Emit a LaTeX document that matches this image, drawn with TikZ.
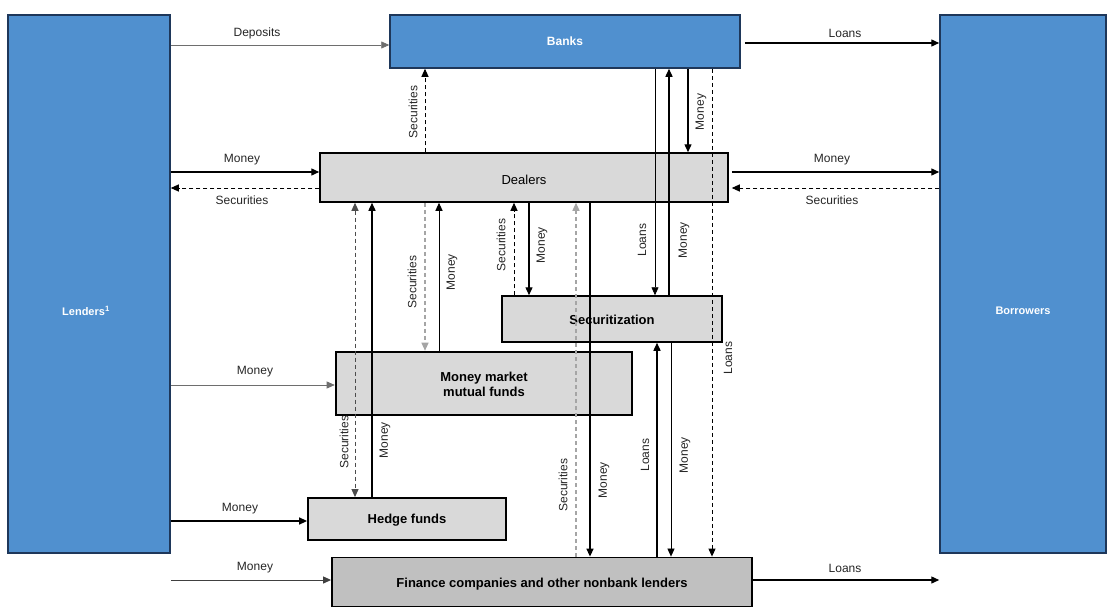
\documentclass[tikz,border=0pt]{standalone}
\usepackage{fontspec}
\setmainfont{Liberation Sans}
\usetikzlibrary{arrows.meta}
\definecolor{bbl}{RGB}{80,144,207}
\definecolor{bbd}{RGB}{30,55,90}
\definecolor{lg}{RGB}{217,217,217}
\definecolor{dg}{RGB}{192,192,192}
\definecolor{ln}{RGB}{110,110,110}
\definecolor{gd}{RGB}{165,165,165}
\begin{document}
\begin{tikzpicture}[x=1pt,y=-1pt,
  bluebox/.style={draw=bbd, line width=1.5pt, fill=bbl, inner sep=0pt},
  graybox/.style={draw=black, line width=1.8pt, fill=lg, inner sep=0pt},
  wtxt/.style={text=white, font=\bfseries\fontsize{11}{13}\selectfont, inner sep=0pt},
  btxt/.style={font=\bfseries\fontsize{13}{15}\selectfont, inner sep=0pt, align=center},
  arr/.style={-{Triangle[length=8pt,width=7pt]}, line width=1.4pt},
  marr/.style={-{Triangle[length=8pt,width=7pt]}, line width=1pt},
  tarr/.style={-{Triangle[length=8pt,width=7pt]}, line width=0.7pt, draw=ln},
  darr/.style={-{Triangle[length=8pt,width=7pt]}, line width=1pt, dash pattern=on 4pt off 3pt},
  gdarr/.style={-{Triangle[length=8pt,width=7pt]}, line width=1.2pt, draw=gd, dash pattern=on 4pt off 3pt},
  lbl/.style={font=\fontsize{12}{14}\selectfont, inner sep=0pt, text=black!85},
  vl/.style={lbl, rotate=90},
]
\useasboundingbox (0,0) rectangle (1109,608);
\fill[white] (0,0) rectangle (1109,608);

% boxes
\node[bluebox, minimum width=162pt, minimum height=538pt] (lenders) at (89,284) {};
\node[wtxt] (lenderst) at (86,311) {Lenders\textsuperscript{1}};
\node[bluebox, minimum width=166pt, minimum height=538pt] (borrowers) at (1023,284) {};
\node[wtxt] (borrowerst) at (1023,311) {Borrowers};
\node[bluebox, minimum width=350pt, minimum height=53pt] (banks) at (565,41.5) {};
\node[wtxt, font=\bfseries\fontsize{12}{14}\selectfont] (bankst) at (565,41.5) {Banks};
\node[graybox, line width=1.5pt, minimum width=408pt, minimum height=49pt] (dealers) at (524,177.5) {};
\node[btxt, font=\fontsize{13}{15}\selectfont] (dealerst) at (524,180) {Dealers};
\node[graybox, line width=1.5pt, minimum width=220pt, minimum height=46pt] (secur) at (612,319) {};
\node[btxt] (securt) at (612,320) {Securitization};
\node[graybox, line width=2.6pt, minimum width=296pt, minimum height=63pt] (mmmf) at (484,383.5) {};
\node[btxt] (mmmft) at (484,384) {Money market\\mutual funds};
\node[graybox, minimum width=198pt, minimum height=42pt] (hedge) at (407,519) {};
\node[btxt] (hedget) at (407,520) {Hedge funds};
\node[graybox, fill=dg, minimum width=420pt, minimum height=49pt] (finance) at (542,582) {};
\node[btxt] (financet) at (542,584) {Finance companies and other nonbank lenders};

% horizontal connectors
\draw[tarr] (lenders.east |- 0,45) -- (banks.west |- 0,45);
\draw[arr] ([xshift=4pt]banks.east |- 0,43) -- (borrowers.west |- 0,43);
\draw[arr] (lenders.east |- 0,172) -- (dealers.west |- 0,172);
\draw[darr] (dealers.west |- 0,188) -- (lenders.east |- 0,188);
\draw[arr] ([xshift=3pt]dealers.east |- 0,172) -- (borrowers.west |- 0,172);
\draw[darr] (borrowers.west |- 0,188) -- ([xshift=3pt]dealers.east |- 0,188);
\draw[tarr] (lenders.east |- 0,385) -- (mmmf.west |- 0,385);
\draw[arr] (lenders.east |- 0,521) -- (hedge.west |- 0,521);
\draw[marr, draw=black!75] (lenders.east |- 0,580) -- (finance.west |- 0,580);
\draw[arr] (finance.east |- 0,580) -- (borrowers.west |- 0,580);

% vertical connectors
\draw[darr] (425,0 |- dealers.north) -- (425,0 |- banks.south);
\draw[tarr, draw=black] (655,0 |- banks.south) -- (655,0 |- secur.north);
\draw[arr] (669,0 |- secur.north) -- (669,0 |- banks.south);
\draw[arr] (688,0 |- banks.south) -- (688,0 |- dealers.north);
\draw[darr] (712,0 |- banks.south) -- (712,0 |- finance.north);
\draw[darr] (514,0 |- secur.north) -- (514,0 |- dealers.south);
\draw[arr] (529,0 |- dealers.south) -- (529,0 |- secur.north);
\draw[gdarr] (576,0 |- finance.north) -- (576,0 |- dealers.south);
\draw[arr] (590,0 |- dealers.south) -- (590,0 |- finance.north);
\draw[arr] (657,0 |- finance.north) -- (657,0 |- secur.south);
\draw[tarr, draw=black] (671,0 |- secur.south) -- (671,0 |- finance.north);
\draw[gdarr] (425,0 |- dealers.south) -- (425,0 |- mmmf.north);
\draw[marr] (439,0 |- mmmf.north) -- (439,0 |- dealers.south);
\draw[darr, draw=black!70, {Triangle[length=8pt,width=7pt]}-{Triangle[length=8pt,width=7pt]}] (355,0 |- dealers.south) -- (355,0 |- hedge.north);
\draw[arr] (372,0 |- hedge.north) -- (372,0 |- dealers.south);

% horizontal labels
\node[lbl] (l1) at (257,33) {Deposits};
\node[lbl] (l2) at (845,33) {Loans};
\node[lbl] (l3) at (242,160) {Money};
\node[lbl] (l4) at (242,200) {Securities};
\node[lbl] (l5) at (832,160) {Money};
\node[lbl] (l6) at (832,200) {Securities};
\node[lbl] (l7) at (255,372) {Money};
\node[lbl] (l8) at (240,509) {Money};
\node[lbl] (l9) at (255,568) {Money};
\node[lbl] (l10) at (845,568) {Loans};

% vertical labels
\node[vl] (v1) at (413,112) {Securities};
\node[vl] (v2) at (701,112) {Money};
\node[vl] (v3) at (642,240) {Loans};
\node[vl] (v4) at (684,240) {Money};
\node[vl] (v5) at (501,245) {Securities};
\node[vl] (v6) at (542,245) {Money};
\node[vl] (v7) at (412,282) {Securities};
\node[vl] (v8) at (452,272) {Money};
\node[vl] (v9) at (344,442) {Securities};
\node[vl] (v10) at (385,440) {Money};
\node[vl] (v11) at (563,485) {Securities};
\node[vl] (v12) at (604,480) {Money};
\node[vl] (v13) at (645,455) {Loans};
\node[vl] (v14) at (685,455) {Money};
\node[vl] (v15) at (728,358) {Loans};
\end{tikzpicture}
\end{document}
